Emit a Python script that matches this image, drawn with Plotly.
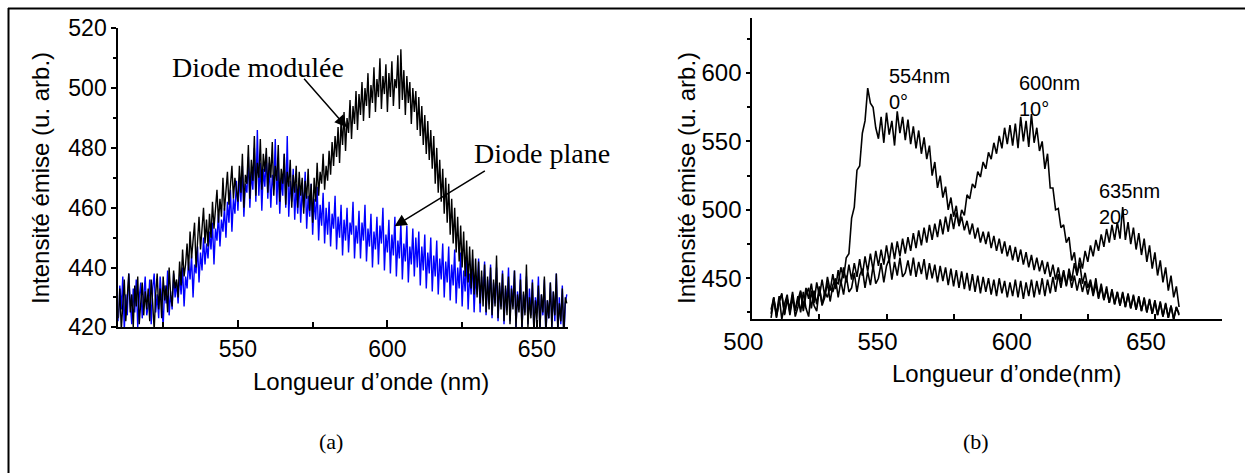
import plotly.graph_objects as go

W, H = 1245, 473

# ---------------- data: panel (a) ----------------
wl_a = [510 + 0.5 * i for i in range(301)]  # 510 .. 660 nm, 0.5 nm step

plane_a = [
    422, 434, 426, 437, 419, 431, 424, 438, 428, 421, 433, 425, 436, 420, 430, 435, 423, 429, 437, 424,
    427, 436, 421, 433, 438, 425, 431, 423, 437, 429, 420, 434, 428, 439, 424, 432, 426, 438, 430, 435,
    428, 438, 431, 440, 427, 437, 433, 442, 436, 444, 430, 441, 438, 447, 435, 445, 439, 450, 441, 448,
    443, 452, 446, 455, 441, 453, 449, 458, 447, 456, 452, 460, 450, 462, 455, 466, 452, 463, 458, 469,
    459, 470, 462, 474, 457, 468, 465, 477, 460, 472, 466, 480, 462, 486, 464, 475, 459, 473, 467, 478,
    463, 475, 460, 471, 466, 483, 461, 474, 458, 470, 464, 478, 460, 484, 457, 469, 462, 473, 456, 468,
    458, 470, 455, 466, 460, 472, 453, 464, 457, 468, 451, 463, 456, 467, 449, 461, 454, 465, 448, 460,
    451, 462, 447, 458, 453, 464, 446, 457, 450, 461, 444, 456, 449, 460, 445, 455, 451, 462, 443, 454,
    448, 459, 443, 455, 449, 461, 442, 453, 447, 458, 440, 452, 446, 457, 441, 454, 448, 460, 439, 451,
    445, 456, 438, 451, 444, 457, 437, 449, 443, 455, 436, 448, 442, 454, 435, 447, 441, 453, 437, 450,
    440, 452, 434, 447, 439, 451, 433, 445, 438, 450, 432, 444, 437, 449, 431, 443, 436, 448, 430, 442,
    435, 447, 429, 441, 434, 446, 428, 440, 433, 445, 427, 439, 432, 444, 426, 438, 431, 443, 425, 437,
    431, 443, 425, 437, 430, 442, 424, 436, 429, 441, 423, 435, 428, 440, 422, 434, 427, 439, 421, 433,
    428, 440, 422, 434, 427, 439, 420, 432, 426, 438, 419, 431, 425, 437, 421, 433, 424, 436, 418, 430,
    425, 437, 419, 431, 424, 436, 417, 429, 423, 435, 420, 432, 422, 438, 418, 430, 421, 434, 416, 428,
    431,
]

modulee_a = [
    423, 433, 419, 430, 436, 422, 429, 438, 425, 431, 420, 434, 427, 437, 421, 430, 435, 424, 432, 426,
    433, 422, 436, 428, 419, 431, 438, 426, 433, 423, 437, 429, 434, 425, 440, 431, 427, 439, 433, 436,
    430, 442, 434, 446, 437, 441, 448, 439, 452, 443, 449, 455, 440, 451, 457, 446, 453, 460, 448, 456,
    447, 458, 450, 462, 453, 459, 466, 455, 463, 457, 470, 459, 465, 472, 461, 468, 474, 463, 470, 466,
    462, 474, 465, 478, 460, 471, 468, 481, 463, 476, 469, 484, 464, 475, 470, 483, 466, 478, 472, 480,
    465, 477, 470, 482, 464, 474, 469, 481, 462, 473, 468, 478, 461, 472, 467, 476, 460, 471, 465, 474,
    460, 472, 464, 470, 458, 469, 463, 473, 459, 468, 455, 470, 462, 475, 464, 472, 468, 478, 466, 474,
    469, 479, 471, 482, 474, 484, 477, 487, 475, 489, 481, 492, 479, 490, 485, 496, 483, 494, 488, 499,
    486, 498, 491, 502, 489, 500, 494, 505, 490, 501, 495, 507, 492, 503, 497, 510, 493, 504, 498, 508,
    492, 505, 497, 509, 494, 503, 500, 511, 493, 513, 496, 506, 491, 504, 495, 502, 488, 500, 492, 499,
    486, 497, 484, 494, 481, 491, 478, 489, 476, 486, 473, 484, 468, 480, 465, 476, 462, 473, 458, 470,
    455, 468, 451, 463, 448, 460, 445, 457, 442, 454, 440, 452, 437, 449, 435, 447, 433, 446, 431, 443,
    430, 442, 428, 439, 427, 441, 425, 437, 426, 440, 424, 436, 427, 444, 423, 435, 426, 438, 422, 434,
    424, 437, 421, 433, 426, 439, 420, 431, 425, 436, 419, 432, 424, 441, 420, 430, 423, 435, 418, 429,
    422, 434, 419, 431, 425, 437, 418, 429, 423, 435, 420, 432, 424, 438, 419, 428, 422, 433, 417, 430,
    428,
]

# ---------------- data: panel (b) ----------------
wl_b = list(range(507, 660))  # nm, 1 nm step

angle_0 = [
    421, 434, 424, 437, 420, 431, 438, 423, 435, 427,
    437, 425, 440, 428, 422, 441, 430, 426, 443, 431,
    440, 436, 444, 440, 447, 446, 458, 450, 465, 468,
    494, 502, 529, 532, 556, 565, 589, 578, 575, 560,
    552, 568, 549, 571, 555, 565, 547, 572, 556, 568,
    551, 566, 548, 561, 545, 558, 541, 553, 537, 547,
    525, 535, 516, 525, 509, 517, 500, 509, 495, 503,
    488, 495, 485, 492, 482, 490, 479, 487, 476, 484,
    475, 484, 472, 481, 470, 479, 468, 477, 466, 474,
    463, 473, 462, 471, 460, 469, 458, 467, 456, 465,
    455, 463, 453, 462, 451, 460, 449, 458, 447, 456,
    445, 454, 443, 452, 441, 450, 440, 448, 438, 447,
    437, 446, 435, 444, 434, 442, 432, 441, 431, 440,
    430, 439, 429, 438, 428, 437, 427, 436, 426, 435,
    425, 434, 424, 433, 423, 432, 422, 431, 421, 430,
    420, 429, 424,
]

angle_10 = [
    427, 436, 422, 433, 438, 424, 435, 428, 440, 426,
    434, 441, 429, 443, 435, 446, 432, 447, 437, 449,
    437, 451, 441, 453, 442, 456, 445, 458, 447, 460,
    449, 461, 451, 464, 452, 466, 455, 468, 456, 470,
    459, 471, 460, 474, 462, 476, 464, 477, 466, 479,
    468, 480, 470, 483, 472, 485, 474, 487, 476, 489,
    478, 490, 480, 493, 482, 495, 484, 497, 486, 498,
    489, 500, 496, 511, 508, 519, 516, 528, 524, 535,
    530, 542, 537, 549, 541, 554, 545, 560, 548, 562,
    547, 563, 545, 568, 550, 565, 546, 570, 549, 560,
    543, 550, 530, 541, 516, 516, 500, 501, 487, 489,
    476, 480, 463, 469, 453, 461, 446, 454, 443, 449,
    439, 450, 436, 446, 434, 444, 432, 442, 431, 440,
    430, 440, 429, 439, 428, 438, 427, 437, 426, 436,
    425, 435, 424, 434, 423, 433, 422, 432, 421, 430,
    420, 429, 423,
]

angle_20 = [
    424, 436, 421, 433, 439, 423, 435, 425, 438, 422,
    429, 440, 426, 438, 443, 428, 441, 431, 444, 430,
    436, 447, 433, 445, 450, 436, 448, 438, 452, 440,
    443, 454, 440, 452, 457, 443, 455, 445, 459, 446,
    450, 461, 447, 459, 464, 449, 462, 452, 465, 451,
    454, 463, 452, 465, 451, 462, 453, 464, 449, 461,
    450, 460, 447, 459, 448, 458, 445, 457, 444, 456,
    443, 455, 442, 454, 441, 453, 440, 452, 439, 451,
    440, 450, 438, 449, 437, 450, 439, 448, 436, 447,
    437, 449, 436, 448, 435, 447, 437, 449, 436, 448,
    438, 450, 437, 449, 439, 451, 440, 453, 443, 455,
    444, 457, 448, 461, 452, 465, 457, 470, 462, 474,
    466, 478, 470, 482, 473, 486, 476, 489, 478, 491,
    479, 502, 478, 491, 475, 487, 471, 483, 467, 479,
    462, 474, 457, 469, 452, 463, 447, 458, 441, 452,
    436, 444, 429,
]

panel_b_labels = ["554nm<br>0°", "600nm<br>10°", "635nm<br>20°"]

SANS = "Liberation Sans, Arial, Helvetica, sans-serif"
SERIF = "Liberation Serif, Times New Roman, serif"


def px_x(p):
    return p / W


def px_y(p):
    return 1 - p / H


fig = go.Figure()

fig.add_trace(go.Scatter(x=wl_a, y=plane_a, mode="lines",
                         line=dict(color="#0000FF", width=1.4),
                         xaxis="x", yaxis="y", showlegend=False))
fig.add_trace(go.Scatter(x=wl_a, y=modulee_a, mode="lines",
                         line=dict(color="black", width=1.4),
                         xaxis="x", yaxis="y", showlegend=False))
for s in (angle_20, angle_10, angle_0):
    fig.add_trace(go.Scatter(x=wl_b, y=s, mode="lines",
                             line=dict(color="black", width=1.6),
                             xaxis="x2", yaxis="y2", showlegend=False))

axis_common = dict(showline=True, linecolor="black", linewidth=2, showgrid=False,
                   zeroline=False, automargin=False, tickcolor="black",
                   tickwidth=1.5)

fig.update_layout(
    width=W, height=H,
    margin=dict(l=0, r=0, t=0, b=0),
    paper_bgcolor="white", plot_bgcolor="white",
    font=dict(family=SANS, color="black"),
    xaxis=dict(domain=[px_x(118.3), px_x(568.3)], range=[510, 660.5], anchor="y",
               dtick=50, tick0=500, ticks="inside", ticklen=7,
               minor=dict(dtick=25, ticks="inside", ticklen=5, tickcolor="black", tickwidth=1.5),
               tickfont=dict(size=23, family=SANS), **axis_common),
    yaxis=dict(domain=[px_y(327.3), px_y(28.3)], range=[420, 520], anchor="x",
               dtick=20, tick0=420, ticks="outside", ticklen=5,
               minor=dict(dtick=10, ticks="outside", ticklen=3, tickcolor="black", tickwidth=1.5),
               tickfont=dict(size=23, family=SANS), **axis_common),
    xaxis2=dict(domain=[px_x(752.3), px_x(1222)], range=[500, 675], anchor="y2",
                dtick=50, tick0=500, ticks="inside", ticklen=5, ticklabelshift=-9,
                minor=dict(dtick=25, ticks="inside", ticklen=5, tickcolor="black", tickwidth=1.5),
                tickfont=dict(size=24, family=SANS), **axis_common),
    yaxis2=dict(domain=[px_y(319.3), px_y(18.3)], range=[420, 640], anchor="x2",
                dtick=50, tick0=450, ticks="outside", ticklen=4,
                minor=dict(dtick=25, ticks="outside", ticklen=3, tickcolor="black", tickwidth=1.5),
                tickfont=dict(size=24, family=SANS), **axis_common),
)

ann = []
# axis titles as free annotations
ann.append(dict(text="Intensité émise (u. arb.)", x=px_x(40), y=px_y(178), xref="paper", yref="paper",
                textangle=-90, showarrow=False, font=dict(size=24, family=SANS),
                xanchor="center", yanchor="middle"))
ann.append(dict(text="Longueur d’onde (nm)", x=px_x(371), y=px_y(381), xref="paper", yref="paper",
                showarrow=False, font=dict(size=24, family=SANS), xanchor="center", yanchor="middle"))
ann.append(dict(text="Intensité émise (u. arb.)", x=px_x(686), y=px_y(178), xref="paper", yref="paper",
                textangle=-90, showarrow=False, font=dict(size=24, family=SANS),
                xanchor="center", yanchor="middle"))
ann.append(dict(text="Longueur d’onde(nm)", x=px_x(1007), y=px_y(373), xref="paper", yref="paper",
                showarrow=False, font=dict(size=24, family=SANS), xanchor="center", yanchor="middle"))
ann.append(dict(text="(a)", x=px_x(331), y=px_y(441), xref="paper", yref="paper",
                showarrow=False, font=dict(size=22, family=SERIF), xanchor="center", yanchor="middle"))
ann.append(dict(text="(b)", x=px_x(976), y=px_y(441), xref="paper", yref="paper",
                showarrow=False, font=dict(size=22, family=SERIF), xanchor="center", yanchor="middle"))
# panel (a) labels
ann.append(dict(text="Diode modulée", x=px_x(258), y=px_y(68), xref="paper", yref="paper",
                showarrow=False, font=dict(size=28, family=SERIF), xanchor="center", yanchor="middle"))
ann.append(dict(text="Diode plane", x=px_x(542), y=px_y(153), xref="paper", yref="paper",
                showarrow=False, font=dict(size=28, family=SERIF), xanchor="center", yanchor="middle"))
# arrows (data coordinates of panel a)
ann.append(dict(text="", x=586.4, y=486.9, ax=571.7, ay=503.6, xref="x", yref="y", axref="x", ayref="y",
                showarrow=True, arrowhead=2, arrowsize=1.6, arrowwidth=1.5, arrowcolor="black"))
ann.append(dict(text="", x=602.4, y=453.8, ax=633.1, ay=472.6, xref="x", yref="y", axref="x", ayref="y",
                showarrow=True, arrowhead=2, arrowsize=1.6, arrowwidth=1.5, arrowcolor="black"))
# panel (b) labels
for txt, xp, yp in zip(panel_b_labels, [887, 1017, 1097], [63, 70, 178]):
    ann.append(dict(text=txt, x=px_x(xp), y=px_y(yp), xref="paper", yref="paper", align="left",
                    showarrow=False, font=dict(size=20, family=SANS), xanchor="left", yanchor="top"))

fig.update_layout(annotations=ann)

# outer frame (top and left edges)
fig.add_shape(type="line", xref="paper", yref="paper", x0=px_x(8), x1=1, y0=px_y(8.5), y1=px_y(8.5),
              line=dict(color="black", width=2))
fig.add_shape(type="line", xref="paper", yref="paper", x0=px_x(8.5), x1=px_x(8.5), y0=0, y1=px_y(8),
              line=dict(color="black", width=2))

fig.write_html("out.html", config={"displayModeBar": False},
               post_script="document.body.style.margin='0';document.body.style.overflow='hidden';")
